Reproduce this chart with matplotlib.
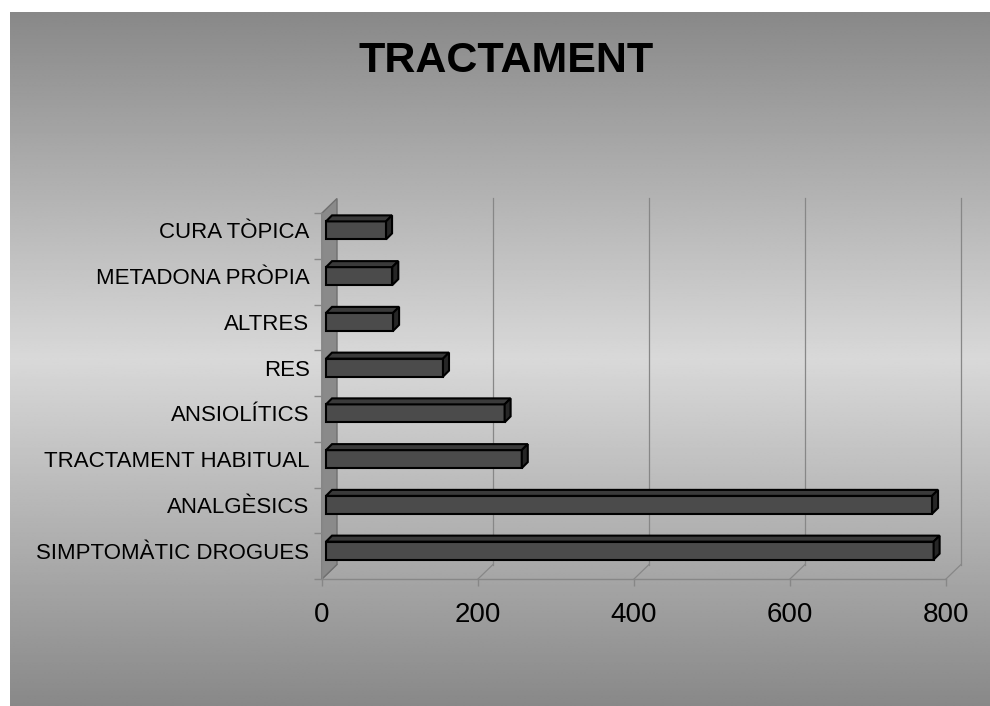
import numpy as np
import matplotlib
matplotlib.use("Agg")
import matplotlib.pyplot as plt
from matplotlib.patches import Polygon

plt.rcParams['font.family'] = ['Liberation Sans', 'DejaVu Sans']

# ---- data ----
categories = ["SIMPTOMÀTIC DROGUES", "ANALGÈSICS", "TRACTAMENT HABITUAL",
              "ANSIOLÍTICS", "RES", "ALTRES", "METADONA PRÒPIA", "CURA TÒPICA"]
values = [779, 777, 251, 229, 150, 86, 85, 77]
xticks = [0, 200, 400, 600, 800]
title = "TRACTAMENT"

W, H = 990, 706
fig = plt.figure(figsize=(W / 100, H / 100), dpi=100, facecolor="white")

# ---- gradient background (panel starts 10 px from left, 12 px from top) ----
bg = fig.add_axes([10 / W, 0, (W - 10) / W, (H - 12) / H])
rows = 400
t = np.linspace(0, 1, rows)
dark, light = 0.535, 0.85
g = dark + (light - dark) * (1 - np.abs(2 * t - 1))
img = np.repeat(g[:, None], 2, axis=1)
bg.imshow(img, cmap="gray", vmin=0, vmax=1, aspect="auto", interpolation="bilinear")
bg.axis("off")

# ---- main axes = front plane of the 3D box ----
x_left, x_right, y_top, y_bot = 322, 946, 213, 579
ax = fig.add_axes([x_left / W, (H - y_bot) / H, (x_right - x_left) / W, (y_bot - y_top) / H])
ax.set_xlim(0, 800)
ax.set_ylim(-0.5, len(categories) - 0.5)
ax.patch.set_alpha(0)

pxx = 800 / (x_right - x_left)          # data units per pixel (x)
pxy = len(categories) / (y_bot - y_top)  # data units per pixel (y)

# depth of the box
dx, dy = 15 * pxx, 14.5 * pxy
ymin, ymax = -0.5, len(categories) - 0.5
gridc = "#878787"

# left wall
wall = Polygon([(0, ymin), (dx, ymin + dy), (dx, ymax + dy), (0, ymax)],
               closed=True, facecolor="#8a8a8a", edgecolor="#6f6f6f", lw=1,
               clip_on=False, zorder=1)
ax.add_patch(wall)
# back-wall gridlines and right edge
for v in xticks[1:]:
    ax.plot([v + dx, v + dx], [ymin + dy, ymax + dy], color=gridc, lw=0.9,
            clip_on=False, zorder=0.5)
# floor diagonals
for v in xticks:
    ax.plot([v, v + dx], [ymin, ymin + dy], color=gridc, lw=0.9, clip_on=False, zorder=0.5)

# ---- 3D bars ----
z0 = 4 * pxx
bdx, bdy = 6 * pxx, 6 * pxy
bh = 18 * pxy
shift = 5.5 * pxy
for i, v in enumerate(values):
    yc = i + shift
    b0, b1 = yc - bh / 2, yc + bh / 2
    ax.barh(yc, v, left=z0, height=bh, color="#4b4b4b", edgecolor="black",
            lw=1.5, zorder=3)
    top = Polygon([(z0, b1), (z0 + v, b1), (z0 + v + bdx, b1 + bdy), (z0 + bdx, b1 + bdy)],
                  closed=True, facecolor="#3a3a3a", edgecolor="black", lw=1.5, zorder=3)
    side = Polygon([(z0 + v, b0), (z0 + v, b1), (z0 + v + bdx, b1 + bdy), (z0 + v + bdx, b0 + bdy)],
                   closed=True, facecolor="#262626", edgecolor="black", lw=1.5, zorder=3)
    ax.add_patch(top)
    ax.add_patch(side)

# ---- axes styling ----
for s in ["top", "right"]:
    ax.spines[s].set_visible(False)
for s in ["left", "bottom"]:
    ax.spines[s].set_color(gridc)
    ax.spines[s].set_linewidth(1)
    ax.spines[s].set_zorder(2)

ax.set_yticks(np.arange(-0.5, len(categories), 1.0))
ax.set_yticklabels([])
ax.set_yticks(np.arange(len(categories)) + shift, minor=True)
ax.set_yticklabels(categories, minor=True, fontsize=16)
ax.tick_params(axis="y", which="major", length=6, color=gridc, width=1)
ax.tick_params(axis="y", which="minor", length=0, pad=9)

ax.set_xticks(xticks)
ax.set_xticklabels([str(v) for v in xticks], fontsize=20)
ax.tick_params(axis="x", length=5, color=gridc, width=1, pad=11.5)

fig.text(506 / W, 1 - 61 / H, title, ha="center", va="center",
         fontsize=31, fontweight="bold")

fig.savefig("out.png", dpi=100, facecolor="white")
